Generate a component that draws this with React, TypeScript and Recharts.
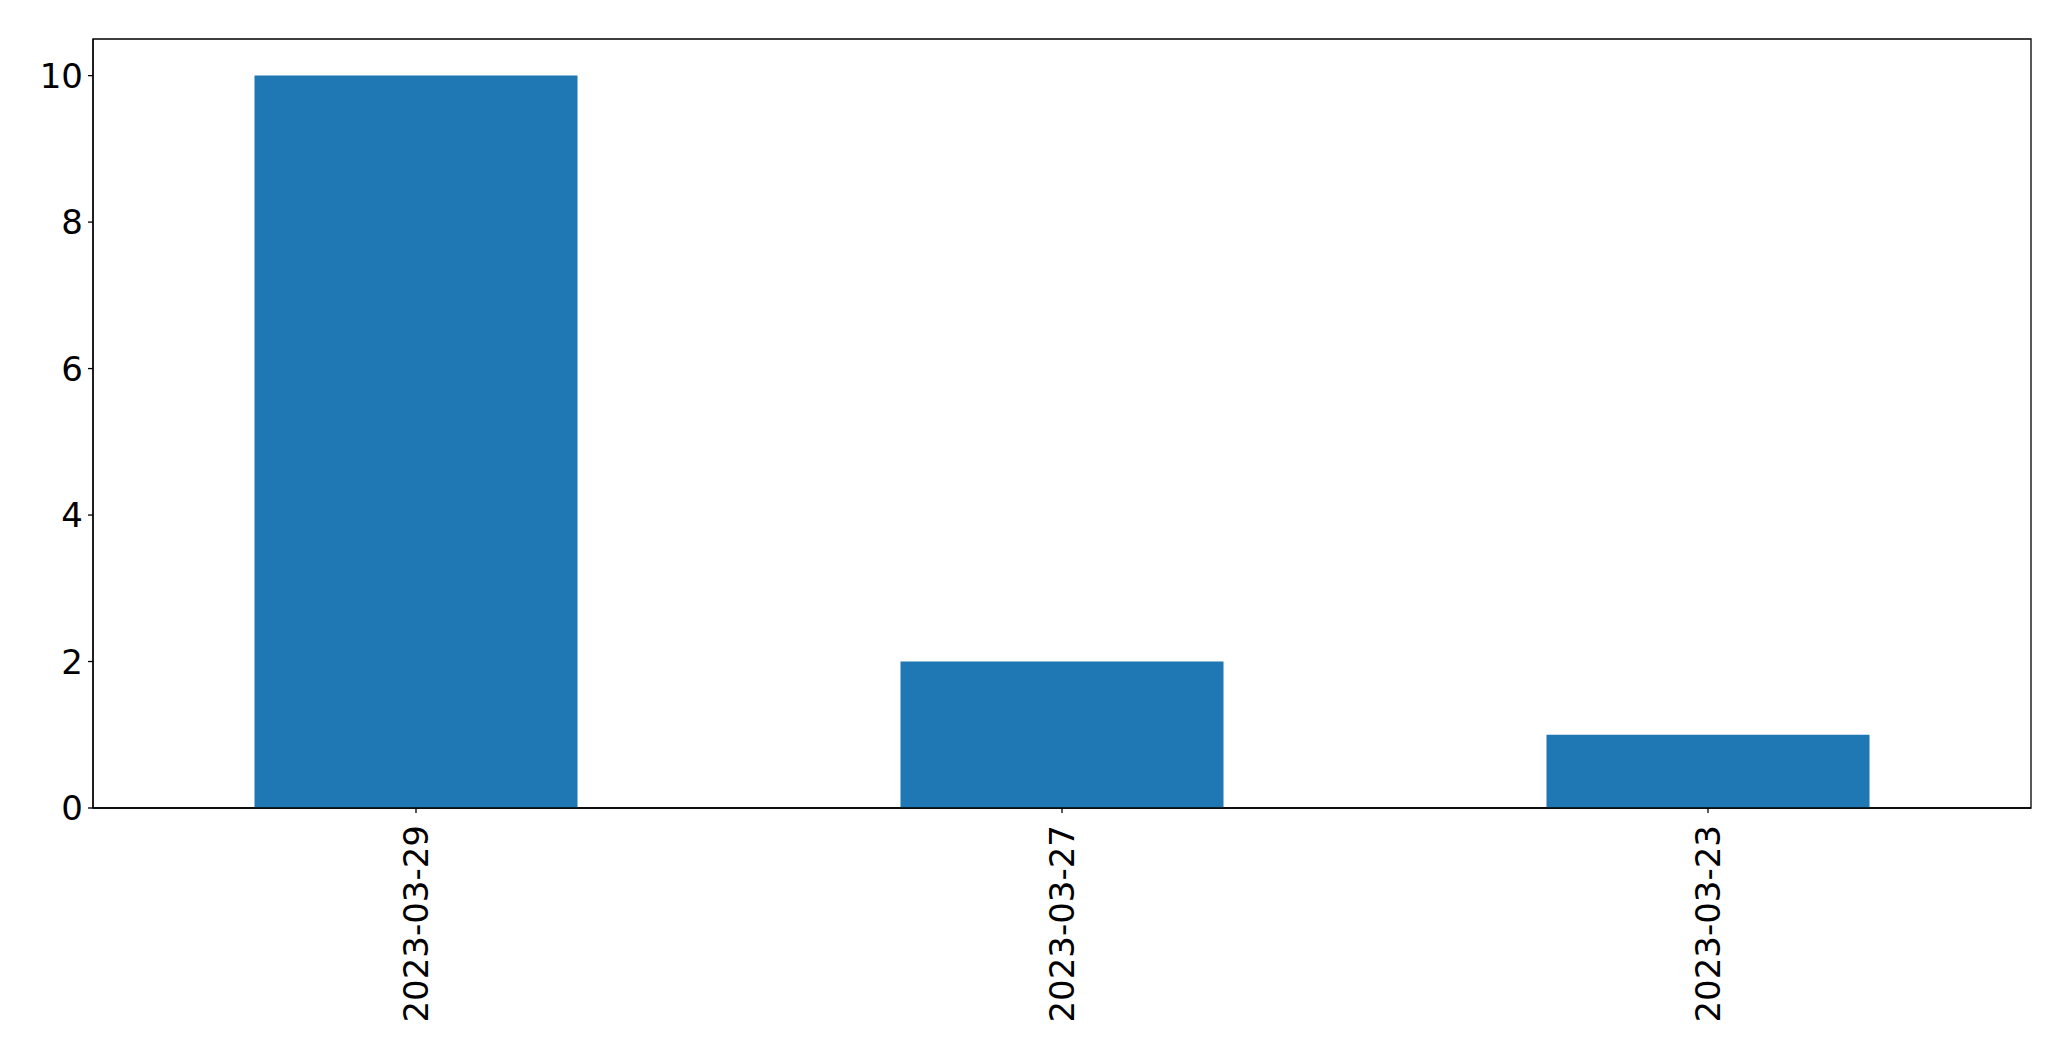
import React from 'react';
import { BarChart, Bar, XAxis, YAxis, ReferenceArea } from 'recharts';

// 날짜별 건수 (pandas 막대 차트 재현)
const dates = ['2023-03-29', '2023-03-27', '2023-03-23'];
const counts = [10, 2, 1];
const yTicks = [0, 2, 4, 6, 8, 10];
const yMax = 10.5;

const data = dates.map((date, i) => ({ date, count: counts[i] }));

const FONT = 'DejaVu Sans';
const FONT_SIZE = 34;

function DateTick(props: any) {
  const { x, y, payload } = props;
  return (
    <text
      x={x}
      y={y}
      transform={`rotate(-90, ${x}, ${y})`}
      textAnchor="end"
      dy="0.36em"
      fill="#000"
      fontFamily={FONT}
      fontSize={FONT_SIZE}
    >
      {payload.value}
    </text>
  );
}

export default function App() {
  return (
    <div style={{ position: 'absolute', left: 0, top: 0, background: '#fff' }}>
      <BarChart
        width={2071}
        height={1061}
        data={data}
        margin={{ top: 39, right: 40, left: 0, bottom: 0 }}
        barCategoryGap="25%"
      >
        <XAxis
          dataKey="date"
          height={253}
          tick={<DateTick />}
          tickSize={5}
          tickMargin={12}
          axisLine={{ stroke: '#000', strokeWidth: 1.3 }}
          tickLine={{ stroke: '#000', strokeWidth: 1.3 }}
          interval={0}
        />
        <YAxis
          width={93}
          domain={[0, yMax]}
          ticks={yTicks}
          tickSize={5}
          tickMargin={5}
          tick={{ fill: '#000', fontFamily: FONT, fontSize: FONT_SIZE }}
          axisLine={{ stroke: '#000', strokeWidth: 1.3 }}
          tickLine={{ stroke: '#000', strokeWidth: 1.3 }}
          allowDataOverflow
        />
        <Bar dataKey="count" fill="#1f77b4" isAnimationActive={false} />
        {/* 상단/우측 테두리 */}
        <ReferenceArea
          y1={0}
          y2={yMax}
          fill="none"
          stroke="#000"
          strokeWidth={1.3}
          ifOverflow="visible"
        />
      </BarChart>
    </div>
  );
}
